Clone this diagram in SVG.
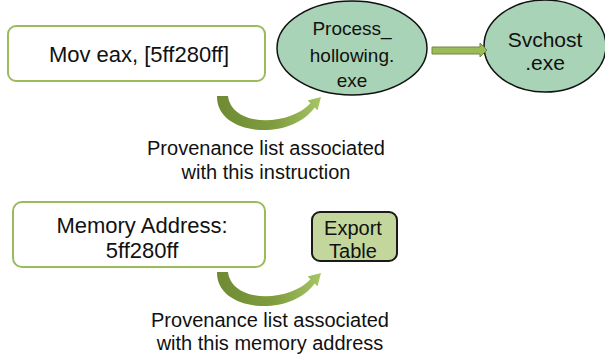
<svg xmlns="http://www.w3.org/2000/svg" width="605" height="356" viewBox="0 0 605 356">
<defs>
<style>
text{font-family:"Liberation Sans",Arial,sans-serif;fill:#111;text-anchor:middle}
.box{fill:#fff;stroke:#9bbb59;stroke-width:2}
.ell{fill:#a9d3b6;stroke:#111;stroke-width:1.5}
.exp{fill:#c3d69b;stroke:#1a1a1a;stroke-width:2}
.curve{fill:url(#cg)}
</style>
<linearGradient id="cg" x1="0" y1="0" x2="1" y2="0">
<stop offset="0" stop-color="#6f8a34"/>
<stop offset="0.55" stop-color="#7f9d3f"/>
<stop offset="1" stop-color="#a6c564"/>
</linearGradient>
</defs>
<rect width="605" height="356" fill="#fff"/>
<g id="instr">
<rect class="box" x="8" y="26" width="257" height="55" rx="8"/>
<text x="139" y="62" font-size="22">Mov eax, [5ff280ff]</text>
</g>
<g id="proc">
<ellipse class="ell" cx="352" cy="48" rx="75" ry="47"/>
<text x="352" y="35" font-size="19">Process_</text>
<text x="352" y="62" font-size="19">hollowing.</text>
<text x="352" y="87" font-size="19">exe</text>
</g>
<g id="svchost">
<ellipse class="ell" cx="545" cy="46" rx="61" ry="46"/>
<text x="545" y="47" font-size="21">Svchost</text>
<text x="545" y="70" font-size="21">.exe</text>
</g>
<g id="mem">
<rect class="box" x="13" y="202" width="252" height="65" rx="9"/>
<text x="142" y="233" font-size="22">Memory Address:</text>
<text x="142" y="258" font-size="22">5ff280ff</text>
</g>
<g id="export">
<rect class="exp" x="312" y="212" width="85" height="49" rx="8"/>
<text x="353" y="235" font-size="20">Export</text>
<text x="353" y="258" font-size="20">Table</text>
</g>
<g id="connectors">
<path d="M432 47 H480 V43 L487 50 L480 57 V54 H432 Z" fill="#9bbb59" stroke="#71893f" stroke-width="1"/>
<path class="curve" d="M217 96 C216 136 290 142 314.7 107.5 L317.5 110.3 L321 97 L307.7 100.5 L310.5 103.3 C290 126 232 128 228 96 Z"/>
<path class="curve" transform="translate(0,176)" d="M217 96 C216 136 290 142 314.7 107.5 L317.5 110.3 L321 97 L307.7 100.5 L310.5 103.3 C290 126 232 128 228 96 Z"/>
</g>
<g id="labels">
<text x="266" y="155" font-size="20">Provenance list associated</text>
<text x="266" y="179" font-size="20">with this instruction</text>
<text x="270" y="327" font-size="20">Provenance list associated</text>
<text x="270" y="350" font-size="20">with this memory address</text>
</g>
</svg>
